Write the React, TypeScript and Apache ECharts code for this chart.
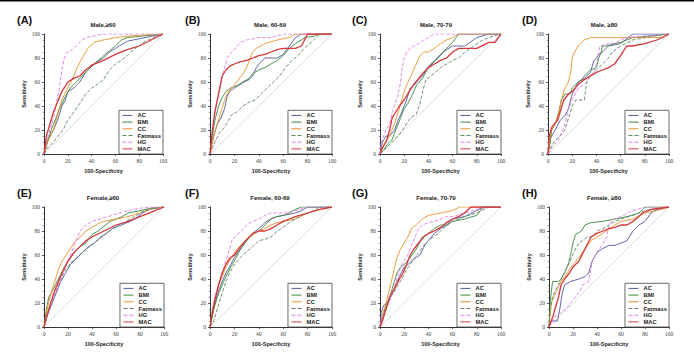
import React, { useEffect, useRef } from "react";
import * as echarts from "echarts";

// ---- labels ----
const panelLabels = ["(A)", "(B)", "(C)", "(D)", "(E)", "(F)", "(G)", "(H)"];
const panelTitles = [
  "Male,≥60", "Male, 60-69", "Male, 70-79", "Male, ≥80",
  "Female,≥60", "Female, 60-69", "Female, 70-79", "Female, ≥80",
];
const seriesNames = ["AC", "BMI", "CC", "Fatmass", "HG", "MAC"];
const xTicks = [0, 20, 40, 60, 80, 100];

// ---- (A) Male ≥60 ----
const A_AC = [[0,0],[3,12],[8,20],[12,30],[15,40],[18,45],[20,52],[25,55],[30,60],[35,68],[40,73],[45,77],[50,80],[55,85],[60,88],[65,91],[70,94],[80,96],[90,98],[100,100]];
const A_BMI = [[0,0],[3,10],[6,20],[10,30],[14,40],[18,48],[22,55],[27,60],[32,65],[37,70],[42,75],[48,80],[55,86],[60,90],[65,95],[70,97],[80,98],[100,100]];
const A_CC = [[0,0],[3,10],[8,20],[12,35],[15,45],[20,55],[25,65],[28,72],[32,80],[37,88],[42,93],[50,95],[60,97],[70,98],[80,99],[100,100]];
const A_FAT = [[0,0],[3,5],[8,10],[12,15],[16,20],[20,28],[25,35],[30,42],[35,50],[40,55],[45,58],[50,62],[55,70],[60,75],[65,78],[70,82],[75,87],[80,90],[85,94],[90,96],[100,100]];
const A_HG = [[0,0],[2,10],[5,20],[8,30],[10,40],[13,55],[15,70],[17,80],[20,85],[24,87],[28,91],[32,95],[36,97],[45,99],[50,100],[100,100]];
const A_MAC = [[0,0],[2,15],[5,25],[8,35],[12,45],[15,52],[20,60],[25,63],[30,65],[35,70],[40,74],[50,78],[60,83],[70,87],[80,90],[90,95],[100,100]];

// ---- (B) Male 60-69 ----
const B_AC = [[0,0],[3,15],[6,25],[9,30],[12,38],[14,48],[16,52],[20,55],[25,58],[28,60],[32,62],[35,65],[38,72],[40,75],[45,80],[50,80],[55,80],[60,83],[65,90],[70,97],[75,100],[100,100]];
const B_BMI = [[0,0],[2,15],[4,28],[7,40],[10,47],[13,52],[17,55],[22,57],[27,60],[32,63],[35,67],[40,70],[45,72],[50,75],[55,78],[60,82],[65,88],[70,92],[78,97],[85,98],[90,100],[100,100]];
const B_CC = [[0,0],[3,15],[6,25],[9,35],[12,45],[15,52],[18,55],[22,60],[27,67],[30,72],[33,80],[35,85],[38,88],[45,92],[55,95],[65,97],[70,100],[100,100]];
const B_FAT = [[0,0],[4,10],[8,18],[12,22],[15,28],[18,33],[22,35],[27,40],[32,43],[37,45],[42,50],[47,55],[52,60],[57,65],[62,72],[67,78],[72,82],[77,88],[82,92],[87,97],[90,100],[100,100]];
const B_HG = [[0,0],[2,20],[4,35],[6,45],[8,55],[10,65],[12,72],[14,80],[16,83],[20,87],[25,93],[30,95],[40,97],[50,97],[60,100],[100,100]];
const B_MAC = [[0,0],[2,20],[4,35],[7,50],[10,65],[13,70],[16,73],[20,75],[25,77],[30,78],[35,80],[40,82],[45,83],[50,85],[55,87],[60,88],[70,88],[75,90],[80,100],[100,100]];

// ---- (C) Male 70-79 ----
const C_AC = [[0,0],[2,10],[5,15],[8,15],[12,20],[15,28],[18,35],[22,45],[25,55],[28,57],[32,62],[35,65],[40,73],[45,78],[50,83],[55,87],[60,90],[65,90],[70,90],[80,97],[90,100],[100,100]];
const C_BMI = [[0,0],[3,3],[6,8],[10,12],[13,20],[17,30],[20,38],[23,42],[27,50],[30,57],[35,63],[40,72],[45,77],[50,82],[55,88],[60,93],[63,97],[65,100],[100,100]];
const C_CC = [[0,0],[3,8],[6,12],[9,18],[12,25],[15,35],[18,45],[21,55],[24,62],[27,68],[30,75],[33,82],[36,85],[40,85],[45,88],[50,92],[55,95],[60,97],[65,100],[100,100]];
const C_FAT = [[0,0],[5,5],[10,10],[15,15],[20,22],[25,30],[30,33],[33,42],[36,55],[38,62],[42,65],[46,68],[50,72],[55,75],[60,78],[65,80],[70,85],[75,88],[80,92],[85,95],[90,97],[100,100]];
const C_HG = [[0,0],[1,10],[3,15],[5,20],[8,25],[10,35],[12,40],[15,50],[17,60],[18,70],[20,80],[22,85],[25,88],[28,90],[32,92],[36,95],[40,97],[45,100],[100,100]];
const C_MAC = [[0,0],[2,5],[5,10],[8,20],[10,30],[13,35],[16,40],[20,45],[24,52],[28,58],[32,63],[36,68],[40,72],[45,75],[50,78],[55,80],[60,85],[65,88],[70,88],[80,88],[90,93],[95,93],[100,100]];

// ---- (D) Male ≥80 ----
const D_AC = [[0,0],[1,12],[3,15],[6,20],[10,28],[14,32],[17,38],[20,50],[25,60],[30,63],[35,68],[38,78],[40,80],[42,83],[45,85],[50,90],[60,92],[70,100],[100,100]];
const D_BMI = [[0,0],[2,10],[3,20],[6,25],[9,35],[11,45],[14,50],[18,50],[20,55],[25,60],[28,62],[30,65],[35,70],[40,72],[42,80],[44,85],[45,90],[48,90],[55,92],[60,93],[65,95],[70,97],[100,100]];
const D_CC = [[0,0],[1,10],[3,20],[6,25],[9,35],[11,45],[14,55],[17,60],[19,70],[20,80],[22,85],[25,90],[30,95],[35,97],[95,97],[100,100]];
const D_FAT = [[0,0],[2,5],[5,10],[10,15],[14,20],[17,30],[20,40],[23,45],[30,45],[32,60],[35,65],[40,70],[45,75],[50,80],[53,85],[60,90],[70,95],[80,97],[100,100]];
const D_HG = [[0,0],[3,5],[5,8],[8,10],[10,15],[14,25],[17,38],[20,45],[25,55],[30,58],[32,60],[35,65],[38,68],[40,75],[43,90],[50,92],[55,92],[60,95],[65,97],[100,100]];
const D_MAC = [[0,0],[1,15],[3,22],[5,25],[8,28],[10,35],[13,45],[17,50],[20,52],[25,58],[30,62],[35,65],[40,68],[45,70],[50,72],[55,75],[60,82],[65,90],[70,90],[80,92],[90,95],[100,100]];

// ---- (E) Female ≥60 ----
const E_AC = [[0,0],[3,10],[6,18],[10,28],[14,38],[18,45],[22,52],[27,57],[32,62],[37,67],[42,70],[47,75],[52,78],[57,82],[62,84],[67,86],[72,88],[77,91],[82,95],[88,98],[100,100]];
const E_BMI = [[0,0],[2,15],[4,25],[8,32],[12,40],[16,48],[20,55],[25,62],[30,67],[35,70],[40,77],[45,80],[50,84],[55,88],[60,90],[65,92],[70,95],[80,97],[90,99],[100,100]];
const E_CC = [[0,0],[2,12],[5,25],[8,35],[12,48],[15,55],[20,62],[25,70],[30,75],[35,80],[40,83],[45,86],[50,88],[60,90],[70,92],[80,95],[90,99],[100,100]];
const E_FAT = [[0,0],[3,12],[6,20],[10,30],[14,40],[18,48],[22,53],[27,58],[32,62],[37,66],[42,70],[47,74],[52,78],[57,82],[62,85],[67,87],[72,90],[77,93],[82,96],[88,99],[100,100]];
const E_HG = [[0,0],[3,10],[6,20],[10,30],[14,40],[18,50],[22,60],[25,68],[28,75],[30,80],[35,85],[40,88],[50,91],[60,94],[70,97],[80,99],[90,100],[100,100]];
const E_MAC = [[0,0],[2,8],[5,18],[8,28],[12,38],[16,47],[20,55],[25,62],[30,67],[35,72],[40,75],[50,80],[60,85],[70,88],[80,92],[90,96],[100,100]];

// ---- (F) Female 60-69 ----
const F_AC = [[0,0],[2,10],[4,20],[7,30],[10,38],[13,45],[17,52],[20,58],[25,65],[30,72],[35,78],[40,82],[45,87],[50,90],[55,92],[60,93],[70,95],[75,97],[80,100],[100,100]];
const F_BMI = [[0,0],[2,10],[4,18],[7,28],[10,35],[13,42],[17,50],[20,55],[25,65],[30,72],[35,77],[40,80],[45,85],[50,90],[55,92],[60,93],[65,95],[70,98],[75,100],[100,100]];
const F_CC = [[0,0],[2,15],[4,25],[7,35],[10,42],[13,50],[17,57],[20,62],[25,68],[30,73],[35,77],[40,80],[45,82],[50,85],[55,87],[60,88],[70,90],[80,95],[90,98],[100,100]];
const F_FAT = [[0,0],[3,5],[6,15],[9,25],[12,35],[16,45],[20,52],[25,58],[30,63],[35,67],[40,72],[45,73],[50,75],[55,80],[60,83],[65,87],[70,90],[75,93],[80,95],[85,97],[90,100],[100,100]];
const F_HG = [[0,0],[2,10],[4,25],[7,35],[10,45],[13,55],[16,65],[18,72],[22,77],[26,80],[30,85],[35,88],[40,90],[45,93],[50,95],[60,95],[70,97],[80,100],[100,100]];
const F_MAC = [[0,0],[2,12],[4,22],[7,35],[10,45],[13,52],[16,57],[20,60],[25,67],[30,73],[35,78],[40,80],[45,80],[50,82],[55,85],[60,88],[65,90],[70,92],[80,95],[90,98],[100,100]];

// ---- (G) Female 70-79 ----
const G_AC = [[0,0],[1,12],[3,18],[6,20],[10,28],[13,35],[16,42],[20,50],[23,52],[26,55],[30,58],[33,60],[37,68],[40,72],[45,78],[50,82],[55,85],[60,90],[70,92],[80,97],[85,100],[100,100]];
const G_BMI = [[0,0],[2,8],[5,18],[8,25],[11,35],[14,45],[17,50],[20,52],[25,58],[30,65],[35,75],[40,78],[45,82],[50,85],[55,85],[60,88],[70,90],[80,93],[85,100],[100,100]];
const G_CC = [[0,0],[2,10],[5,20],[8,32],[11,45],[14,58],[17,65],[20,70],[23,75],[26,82],[30,85],[35,90],[40,93],[50,95],[60,97],[66,100],[100,100]];
const G_FAT = [[0,0],[3,10],[6,18],[9,25],[12,30],[15,35],[18,40],[22,48],[25,52],[28,57],[32,62],[36,68],[40,72],[44,75],[48,78],[52,82],[56,85],[60,88],[70,92],[80,95],[90,100],[100,100]];
const G_HG = [[0,0],[2,8],[5,15],[8,22],[11,30],[14,40],[17,50],[20,55],[23,60],[26,68],[29,75],[32,82],[35,85],[40,87],[45,88],[50,90],[55,92],[60,92],[70,95],[80,98],[90,100],[100,100]];
const G_MAC = [[0,0],[2,5],[5,15],[8,25],[12,32],[15,38],[19,45],[22,52],[25,60],[28,65],[32,70],[36,75],[40,78],[45,80],[50,83],[55,87],[60,90],[65,92],[70,95],[75,100],[100,100]];

// ---- (H) Female ≥80 ----
const H_AC = [[0,0],[2,5],[7,5],[9,15],[11,28],[13,35],[18,38],[25,40],[30,42],[33,45],[36,55],[40,62],[44,65],[50,68],[55,68],[60,70],[65,72],[70,80],[75,85],[80,88],[85,95],[90,98],[100,100]];
const H_BMI = [[0,0],[1,20],[2,30],[3,38],[8,38],[10,40],[13,45],[16,52],[18,60],[20,70],[22,77],[27,80],[30,85],[35,87],[45,88],[55,90],[65,92],[75,95],[80,100],[100,100]];
const H_CC = [[0,0],[1,10],[2,20],[4,25],[7,32],[10,38],[13,42],[17,48],[20,52],[25,58],[30,65],[35,72],[40,75],[45,78],[50,82],[55,85],[60,88],[70,90],[80,95],[90,97],[100,100]];
const H_FAT = [[0,0],[1,15],[3,25],[5,30],[8,35],[11,42],[15,50],[19,58],[22,65],[25,70],[28,72],[32,75],[36,75],[40,80],[45,82],[50,85],[55,88],[60,90],[70,93],[80,97],[100,100]];
const H_HG = [[0,0],[3,5],[6,10],[10,12],[14,15],[18,20],[22,25],[26,30],[28,35],[33,38],[36,55],[40,62],[44,68],[48,75],[50,85],[52,88],[55,90],[60,92],[70,97],[80,100],[100,100]];
const H_MAC = [[0,0],[1,3],[3,8],[5,15],[8,25],[10,35],[13,40],[17,45],[20,50],[25,55],[30,65],[35,75],[40,78],[45,80],[50,82],[55,83],[60,85],[65,85],[70,88],[78,95],[85,98],[100,100]];

const diagonal = [[0, 0], [100, 100]];

const panelData = [
  [A_AC, A_BMI, A_CC, A_FAT, A_HG, A_MAC],
  [B_AC, B_BMI, B_CC, B_FAT, B_HG, B_MAC],
  [C_AC, C_BMI, C_CC, C_FAT, C_HG, C_MAC],
  [D_AC, D_BMI, D_CC, D_FAT, D_HG, D_MAC],
  [E_AC, E_BMI, E_CC, E_FAT, E_HG, E_MAC],
  [F_AC, F_BMI, F_CC, F_FAT, F_HG, F_MAC],
  [G_AC, G_BMI, G_CC, G_FAT, G_HG, G_MAC],
  [H_AC, H_BMI, H_CC, H_FAT, H_HG, H_MAC],
];

// ---- styling / layout ----
const seriesColors = ["#55589e", "#3a8a3c", "#e8922c", "#5f8a5f", "#e27ae2", "#d6363a"];
const seriesDash = ["solid", "solid", "solid", "dashed", "dashed", "solid"];
const seriesWidth = [0.9, 0.9, 0.9, 0.9, 0.9, 1.3];

const gridLeft = [44, 210, 380, 548, 44, 210, 380, 549];
const gridTop = [34, 34, 34, 34, 207, 207, 207, 207];
const gridWidth = [119, 122, 121, 121, 120, 122, 121, 120];
const gridH = 120;
const titleX = [103, 270, 436, 604, 103, 270, 436, 604];
const labelX = [17, 185, 352, 522, 17, 185, 352, 522];

const W = 694;
const H = 353;

export default function App() {
  const ref = useRef<HTMLDivElement>(null);

  useEffect(() => {
    document.body.style.margin = "0";
    if (!ref.current) return;
    const chart = echarts.init(ref.current, undefined, { renderer: "svg" });

    const grids: any[] = [];
    const xAxes: any[] = [];
    const yAxes: any[] = [];
    const series: any[] = [];
    const legends: any[] = [];
    const graphics: any[] = [
      { type: "rect", shape: { x: 0, y: 0, width: W, height: 1.5 }, style: { fill: "#000" } },
    ];

    const axisCommon = {
      type: "value",
      min: 0,
      max: 100,
      interval: 20,
      splitLine: { show: false },
      axisLine: { show: true, lineStyle: { color: "#333", width: 1 } },
      axisTick: { show: true, length: 2, lineStyle: { color: "#333", width: 0.8 } },
      minorTick: { show: true, splitNumber: 4, length: 1.2, lineStyle: { color: "#555", width: 0.6 } },
      axisLabel: {
        fontSize: 5.5,
        fontFamily: "Liberation Serif",
        color: "#444",
        margin: 4,
      },
      nameLocation: "middle",
      nameTextStyle: {
        fontSize: 5.5,
        fontWeight: "bold",
        fontFamily: "Liberation Sans",
        color: "#222",
      },
    };

    for (let i = 0; i < 8; i++) {
      grids.push({ left: gridLeft[i], top: gridTop[i], width: gridWidth[i], height: gridH });
      xAxes.push({
        ...axisCommon,
        gridIndex: i,
        name: "100-Specificity",
        nameGap: 14,
        axisLabel: { ...axisCommon.axisLabel, customValues: xTicks },
      });
      yAxes.push({
        ...axisCommon,
        gridIndex: i,
        name: "Sensitivity",
        nameGap: 17,
      });
      series.push({
        type: "line",
        name: "ref",
        xAxisIndex: i,
        yAxisIndex: i,
        data: diagonal,
        symbol: "none",
        silent: true,
        lineStyle: { color: "#d2d2d2", width: 0.8 },
        z: 1,
      });
      seriesNames.forEach((nm, k) => {
        series.push({
          type: "line",
          name: nm,
          xAxisIndex: i,
          yAxisIndex: i,
          data: panelData[i][k],
          symbol: "none",
          lineStyle: { color: seriesColors[k], width: seriesWidth[k], type: seriesDash[k] },
          itemStyle: { color: seriesColors[k] },
          z: 2 + k,
        });
      });
      legends.push({
        orient: "vertical",
        right: W - (gridLeft[i] + gridWidth[i]),
        bottom: H - (gridTop[i] + gridH),
        data: seriesNames,
        selectedMode: false,
        itemWidth: 10,
        itemHeight: 5,
        itemGap: 0.5,
        padding: [2, 2, 2, 3],
        borderColor: "#444",
        borderWidth: 0.8,
        backgroundColor: "#fff",
        itemStyle: { opacity: 0 },
        lineStyle: { width: 1 },
        textStyle: {
          fontSize: 5.8,
          lineHeight: 6.2,
          fontWeight: "bold",
          fontFamily: "Liberation Sans",
          color: "#222",
        },
      });
      graphics.push({
        type: "text",
        x: titleX[i],
        y: gridTop[i] - 9,
        style: {
          text: panelTitles[i],
          font: "bold 6px 'Liberation Sans'",
          fill: "#222",
          textAlign: "center",
          textVerticalAlign: "middle",
        },
      });
      graphics.push({
        type: "text",
        x: labelX[i],
        y: gridTop[i] - 14,
        style: {
          text: panelLabels[i],
          font: "bold 11px 'Liberation Sans'",
          fill: "#111",
          textAlign: "left",
          textVerticalAlign: "middle",
        },
      });
    }

    chart.setOption({
      animation: false,
      backgroundColor: "#fff",
      grid: grids,
      xAxis: xAxes,
      yAxis: yAxes,
      series,
      legend: legends,
      graphic: graphics,
    });

    return () => chart.dispose();
  }, []);

  return <div ref={ref} style={{ width: W, height: H }} />;
}
